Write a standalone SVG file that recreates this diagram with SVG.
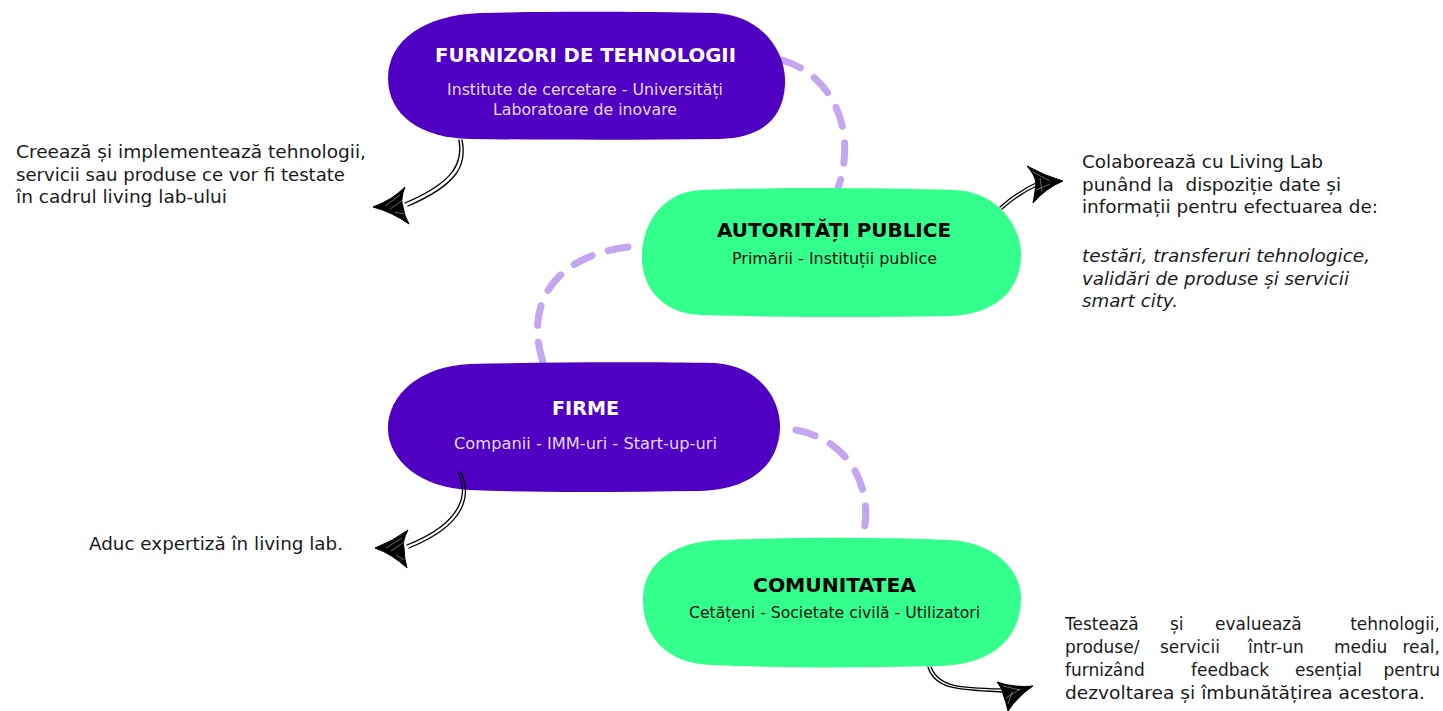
<svg xmlns="http://www.w3.org/2000/svg" width="1443" height="711" viewBox="0 0 1443 711">
<style>
.t{font-family:"DejaVu Sans","Liberation Sans",sans-serif;}
.title{font-weight:bold;font-size:20px;}
.sub{font-size:15px;}
.body{font-size:17px;fill:#1a1a1a;}
.it{font-style:italic;}
.end{text-anchor:end;}
.purple{fill:#5000C3;}
.green{fill:#33FF8C;}
.dash{fill:none;stroke:#C4A5EF;stroke-width:7;stroke-linecap:round;stroke-dasharray:20 17;}
.shaft{fill:none;stroke:#000;stroke-width:1.3;stroke-linecap:round;}
.head{fill:#000;stroke:#000;stroke-width:1;stroke-linejoin:round;}
.scr{fill:none;stroke:#fff;stroke-width:0.6;opacity:0.7;}
</style>
<rect width="1443" height="711" fill="#fff"/>
<g id="connectors">
<path class="dash" d="M 782,60 C 832,75 858,130 838,188"/>
<path class="dash" d="M 628,247 C 560,255 520,300 545,368"/>
<path class="dash" d="M 796,430 C 850,440 876,490 862,540"/>
</g>
<g id="node-furnizori">
<path class="purple" d="M 480,13 C 560,11 650,12 715,13 C 760,15 787,50 785,85 C 783,120 760,138 720,139 C 640,140 560,140 470,139 C 420,138 388,115 388,78 C 388,40 425,15 480,13 Z"/>
<text class="t title" x="435" y="62" fill="#fff" textLength="301" lengthAdjust="spacingAndGlyphs">FURNIZORI DE TEHNOLOGII</text>
<text class="t sub" x="447" y="95" fill="#E4DAFF" textLength="276" lengthAdjust="spacingAndGlyphs">Institute de cercetare - Universități</text>
<text class="t sub" x="493" y="115" fill="#E4DAFF" textLength="184" lengthAdjust="spacingAndGlyphs">Laboratoare de inovare</text>
</g>
<g id="node-autoritati">
<path class="green" d="M 700,190 C 780,187 880,188 955,190 C 1000,192 1023,230 1021,258 C 1019,295 990,315 950,316 C 860,318 770,317 700,315 C 660,313 641,285 642,255 C 643,220 665,192 700,190 Z"/>
<text class="t title" x="717" y="237" fill="#000" textLength="234" lengthAdjust="spacingAndGlyphs">AUTORITĂȚI PUBLICE</text>
<text class="t sub" x="732" y="264" fill="#111" textLength="205" lengthAdjust="spacingAndGlyphs">Primării - Instituții publice</text>
</g>
<g id="node-firme">
<path class="purple" d="M 470,364 C 550,362 650,362 715,363 C 760,366 781,400 780,428 C 779,465 750,490 700,491 C 620,492 540,493 470,490 C 420,488 389,460 388,430 C 387,395 420,366 470,364 Z"/>
<text class="t title" x="552" y="415" fill="#fff" textLength="67" lengthAdjust="spacingAndGlyphs">FIRME</text>
<text class="t sub" x="454" y="449" fill="#E4DAFF" textLength="263" lengthAdjust="spacingAndGlyphs">Companii - IMM-uri - Start-up-uri</text>
</g>
<g id="node-comunitatea">
<path class="green" d="M 720,540 C 800,537 880,537 950,540 C 995,543 1022,570 1021,600 C 1020,640 990,665 940,666 C 860,668 780,668 710,665 C 665,663 643,635 643,600 C 643,565 670,542 720,540 Z"/>
<text class="t title" x="753" y="592" fill="#000" textLength="163" lengthAdjust="spacingAndGlyphs">COMUNITATEA</text>
<text class="t sub" x="689" y="618" fill="#111" textLength="291" lengthAdjust="spacingAndGlyphs">Cetățeni - Societate civilă - Utilizatori</text>
</g>
<g id="arrows">
<path class="shaft" d="M 459,140 C 463,162 455,182 405,203"/>
<path class="shaft" d="M 462,140 C 467,164 459,184 408,206"/>
<path class="head" d="M 373,207 Q 392,200 405,187 Q 400,199 403,207 Q 404,215 409,224 Q 392,212 373,207 Z"/>
<path class="scr" d="M 385,206 L 400,195 M 390,209 L 403,200 M 395,212 L 404,214"/>
<path class="shaft" d="M 1000,207 C 1010,198 1020,190 1040,181"/>
<path class="shaft" d="M 1002,209 C 1012,200 1022,192 1041,184"/>
<path class="head" d="M 1063,181 Q 1045,176 1027,166 Q 1035,175 1036,183 Q 1035,193 1033,203 Q 1046,188 1063,181 Z"/>
<path class="scr" d="M 1033,172 L 1050,181 M 1036,190 L 1050,184 M 1040,178 L 1042,192"/>
<path class="shaft" d="M 458,472 C 468,492 465,522 407,545"/>
<path class="shaft" d="M 461,472 C 471,494 468,524 409,548"/>
<path class="head" d="M 375,548 Q 393,541 408,530 Q 402,541 404,548 Q 404,558 407,568 Q 392,554 375,548 Z"/>
<path class="scr" d="M 386,548 L 402,538 M 391,551 L 404,542 M 396,555 L 404,560"/>
<path class="shaft" d="M 928,667 C 935,690 960,690 1005,692"/>
<path class="shaft" d="M 931,667 C 939,688 962,688 1005,689"/>
<path class="head" d="M 1033,686 Q 1015,688 997,682 Q 1003,690 1003,694 Q 1006,702 1008,711 Q 1018,696 1033,686 Z"/>
<path class="scr" d="M 1003,686 L 1020,690 M 1006,698 L 1020,689 M 1008,704 L 1012,692"/>
</g>
<g id="notes">
<text class="t body" x="16" y="158" textLength="350" lengthAdjust="spacingAndGlyphs">Creează și implementează tehnologii,</text>
<text class="t body" x="16" y="181" textLength="329" lengthAdjust="spacingAndGlyphs">servicii sau produse ce vor fi testate</text>
<text class="t body" x="16" y="203" textLength="211" lengthAdjust="spacingAndGlyphs">în cadrul living lab-ului</text>
<text class="t body" x="1082" y="168" textLength="241" lengthAdjust="spacingAndGlyphs">Colaborează cu Living Lab</text>
<text class="t body" x="1082" y="191" textLength="259" lengthAdjust="spacingAndGlyphs" xml:space="preserve">punând la  dispoziție date și</text>
<text class="t body" x="1082" y="213" textLength="296" lengthAdjust="spacingAndGlyphs">informații pentru efectuarea de:</text>
<text class="t body it" x="1082" y="262" textLength="288" lengthAdjust="spacingAndGlyphs">testări, transferuri tehnologice,</text>
<text class="t body it" x="1082" y="285" textLength="267" lengthAdjust="spacingAndGlyphs">validări de produse și servicii</text>
<text class="t body it" x="1082" y="307" textLength="96" lengthAdjust="spacingAndGlyphs">smart city.</text>
<text class="t body" x="89" y="550" textLength="254" lengthAdjust="spacingAndGlyphs">Aduc expertiză în living lab.</text>
<text class="t body" x="1065" y="630">Testează</text>
<text class="t body" x="1170" y="630">și</text>
<text class="t body" x="1215" y="630">evaluează</text>
<text class="t body end" x="1440" y="630">tehnologii,</text>
<text class="t body" x="1065" y="653">produse/</text>
<text class="t body" x="1160" y="653">servicii</text>
<text class="t body" x="1248" y="653">într-un</text>
<text class="t body" x="1334" y="653">mediu</text>
<text class="t body end" x="1440" y="653">real,</text>
<text class="t body" x="1065" y="676">furnizând</text>
<text class="t body" x="1191" y="676">feedback</text>
<text class="t body" x="1295" y="676">esențial</text>
<text class="t body end" x="1440" y="676">pentru</text>
<text class="t body" x="1065" y="699" textLength="360" lengthAdjust="spacingAndGlyphs">dezvoltarea și îmbunătățirea acestora.</text>
</g>
</svg>
